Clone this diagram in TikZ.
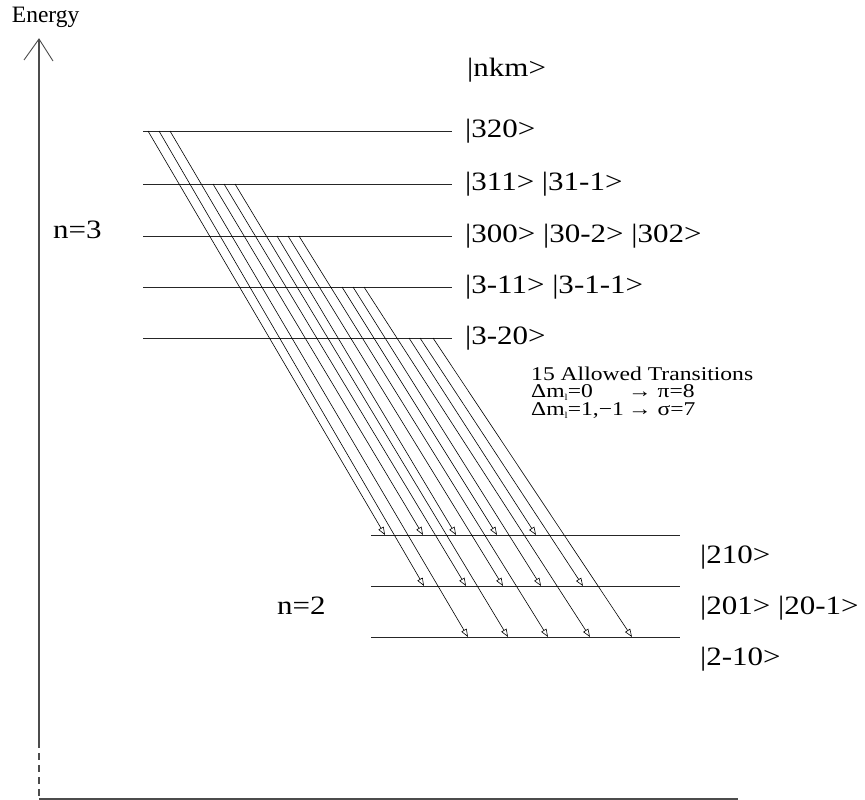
\documentclass[tikz,border=0pt]{standalone}
\usepackage{fontspec}
\setmainfont{Liberation Serif}
\newfontfamily\widefont[FakeStretch=1.17]{Liberation Serif}
\newfontfamily\notefamily[FakeStretch=1.21]{Liberation Serif}
\usetikzlibrary{arrows.meta}
\newcommand{\subl}{\raisebox{-3pt}{\fontsize{9}{9}\selectfont l}}
\newcommand{\notefont}{\notefamily\fontsize{19.5}{17.2}\selectfont\lineskiplimit=-50pt\relax}

\begin{document}
\begin{tikzpicture}[x=1pt,y=-1pt,
  levelline/.style={line width=0.9pt, black!85},
  trans/.style={line width=0.6pt, -{Triangle[open,length=8pt,width=6pt]}},
  axisline/.style={line width=1.2pt, black!70},
  ket/.style={font=\widefont\fontsize{26.5}{30}\selectfont, anchor=west, inner sep=0pt},
  note/.style={font=\notefont, align=left, anchor=north west, inner sep=0pt},
  axlabel/.style={font=\fontsize{23.5}{26}\selectfont, anchor=base west, inner sep=0pt}
]
\useasboundingbox (0,0) rectangle (865,800);

% energy axis
\coordinate (top) at (39,39);
\coordinate (brk) at (39,741);
\coordinate (origin) at (39,799);
\coordinate (xend) at (738,799);
\coordinate (tipL) at (24,60);
\coordinate (tipR) at (53,61);
\draw[axisline] (brk) -- (top);
\draw[axisline, line width=0.9pt] (tipL) -- (top) -- (tipR);
\draw[axisline, dash pattern=on 7pt off 5pt] (brk) -- (origin);
\draw[axisline] (origin) -- (xend);
\node[axlabel] (energy) at (11.7,23) {Energy};

% n = 3 levels
\foreach \y in {131,184,236,287,338}
  \draw[levelline] (143,\y) -- (452,\y);
\node[ket] (nkm)  at (467,70)  {|nkm>};
\node[ket] (k320) at (465,131) {|320>};
\node[ket] (k311) at (465,184) {|311> |31-1>};
\node[ket] (k300) at (465,236) {|300> |30-2> |302>};
\node[ket] (k3m1) at (465,287) {|3-11> |3-1-1>};
\node[ket] (k3m2) at (465,338) {|3-20>};
\node[ket, anchor=base west] (n3) at (53,238) {n=3};

% n = 2 levels
\foreach \y in {535,586,637}
  \draw[levelline] (371,\y) -- (680,\y);
\node[ket] (k210) at (700,557) {|210>};
\node[ket] (k201) at (700,608) {|201> |20-1>};
\node[ket] (k2m1) at (700,659) {|2-10>};
\node[ket] (n2)   at (277,606) {n=2};

% transition summary
\node[note] (rules) at (531,367) {15 Allowed Transitions\\
  \makebox[97pt][l]{Δm\subl=0}→ π=8\\
  \makebox[97pt][l]{Δm\subl=1,−1}→ σ=7};

% start points on the n = 3 levels
\coordinate (a1) at (148,131); \coordinate (a2) at (159,131); \coordinate (a3) at (170,131);
\coordinate (b1) at (213,184); \coordinate (b2) at (224,184); \coordinate (b3) at (235,184);
\coordinate (c1) at (277,236); \coordinate (c2) at (288,236); \coordinate (c3) at (299,236);
\coordinate (d1) at (342,287); \coordinate (d2) at (353,287); \coordinate (d3) at (364,287);
\coordinate (e1) at (409,338); \coordinate (e2) at (420,338); \coordinate (e3) at (433,338);

% end points on the n = 2 levels
\coordinate (p1) at (385,535); \coordinate (p2) at (423,535); \coordinate (p3) at (456,535);
\coordinate (p4) at (497,535); \coordinate (p5) at (536,535);
\coordinate (q1) at (424,586); \coordinate (q2) at (466,586); \coordinate (q3) at (503,586);
\coordinate (q4) at (541,586); \coordinate (q5) at (583,586);
\coordinate (r1) at (468,637); \coordinate (r2) at (508,637); \coordinate (r3) at (548,637);
\coordinate (r4) at (590,637); \coordinate (r5) at (632,637);

% the fifteen transitions
\draw[trans] (a1) -- (p1); \draw[trans] (a2) -- (q1); \draw[trans] (a3) -- (r1);
\draw[trans] (b1) -- (p2); \draw[trans] (b2) -- (q2); \draw[trans] (b3) -- (r2);
\draw[trans] (c1) -- (p3); \draw[trans] (c2) -- (q3); \draw[trans] (c3) -- (r3);
\draw[trans] (d1) -- (p4); \draw[trans] (d2) -- (q4); \draw[trans] (d3) -- (r4);
\draw[trans] (e1) -- (p5); \draw[trans] (e2) -- (q5); \draw[trans] (e3) -- (r5);
\end{tikzpicture}
\end{document}
